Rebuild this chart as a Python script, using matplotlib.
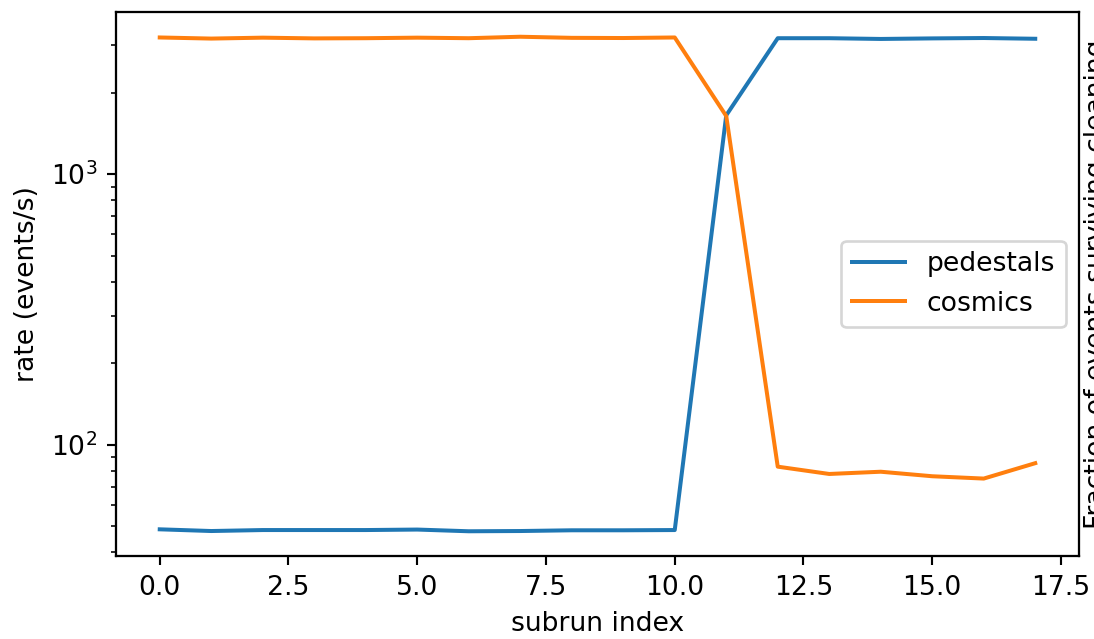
import matplotlib
matplotlib.use('Agg')
import matplotlib.pyplot as plt

# rates per subrun
subrun = list(range(18))
pedestals = [48.7, 48.0, 48.4, 48.4, 48.4, 48.6, 47.9, 48.0, 48.3, 48.3, 48.4,
             1650, 3180, 3180, 3160, 3175, 3185, 3165]
cosmics = [3200, 3170, 3195, 3175, 3180, 3195, 3180, 3220, 3190, 3185, 3200,
           1640, 83, 78, 79.5, 76.5, 75, 85.5]

fig = plt.figure(figsize=(1094 / 192, 639 / 192), dpi=192)
ax = fig.add_axes([0.106, 0.1299, 0.8803, 0.8513])
ax.plot(subrun, pedestals, label='pedestals')
ax.plot(subrun, cosmics, label='cosmics')
ax.set_yscale('log')
ax.set_xlabel('subrun index')
ax.set_ylabel('rate (events/s)')
ax.legend(loc='center right')

# second axis for the cleaning fraction (empty here)
ax2 = ax.twinx()
ax2.set_yticks([])
ax2.set_ylabel('Fraction of events surviving cleaning', labelpad=2)

fig.savefig('out.png', dpi=192)
